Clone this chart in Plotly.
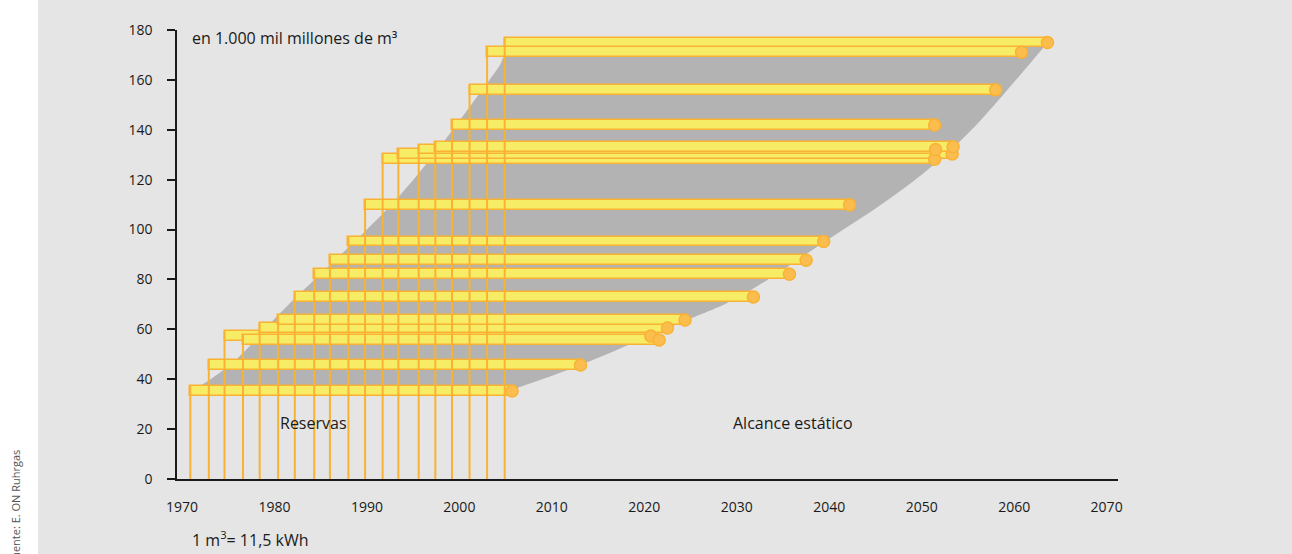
import plotly.graph_objects as go

# ---- data ----
years = [1970.9, 1972.9, 1974.6, 1976.6, 1978.4, 1980.4, 1982.2, 1984.3, 1986.0, 1988.0,
         1989.8, 1991.7, 1993.4, 1995.6, 1997.4, 1999.2, 2001.1, 2003.0, 2004.9]
reserves = [35.3, 45.7, 57.3, 55.7, 60.5, 63.7, 73.0, 82.1, 87.7, 95.2,
            109.9, 128.2, 130.3, 132.1, 133.2, 141.9, 156.0, 171.1, 175.0]
static_range = [34.8, 40.2, 46.1, 45.0, 44.1, 44.0, 49.6, 51.4, 51.5, 51.4,
                52.4, 59.7, 59.9, 55.9, 56.0, 52.2, 56.9, 57.8, 58.7]

# grey envelope (left = reserves edge bottom->top, right = range edge top->bottom)
env_left_year = [1971.5, 1975.9, 1981.3, 1993.6, 2003.0, 2004.7, 2004.9]
env_left_value = [36.0, 48.0, 69.1, 113.9, 158.7, 168.7, 173.5]
env_right_year = [2063.3, 2056.4, 2051.5, 2045.9, 2039.8, 2033.3, 2028.95,
                  2024.6, 2013.1, 2006.2, 2005.8]
env_right_value = [173.5, 143.9, 126.6, 110.7, 95.8, 79.8, 70.6,
                   63.75, 45.7, 36.4, 35.3]

x_ticks = list(range(1970, 2071, 10))
y_ticks = list(range(0, 181, 20))

BAR_W = 3.9
YELLOW = "#F7EC66"
ORANGE = "#F9B233"
DOT = "#FCBD4F"
BG = "#E5E5E5"
GREY = "#B3B3B3"
FONT = "Open Sans"

fig = go.Figure()

# horizontal bars (reserves year -> year + static range)
fig.add_trace(go.Bar(
    orientation="h",
    y=reserves,
    x=static_range,
    base=years,
    width=BAR_W,
    marker=dict(color=YELLOW, line=dict(color=ORANGE, width=1.5)),
    hoverinfo="skip",
    showlegend=False,
))

# vertical lines from 0 up to the top of each bar
vx, vy = [], []
for yr, r in zip(years, reserves):
    vx += [yr, yr, None]
    vy += [0, r + BAR_W / 2, None]
fig.add_trace(go.Scatter(x=vx, y=vy, mode="lines",
                         line=dict(color=ORANGE, width=2),
                         hoverinfo="skip", showlegend=False))

# end dots
ends = [yr + s for yr, s in zip(years, static_range)]
fig.add_trace(go.Scatter(x=ends, y=reserves, mode="markers",
                         marker=dict(size=12, color=DOT, line=dict(color=ORANGE, width=1.5)),
                         hoverinfo="skip", showlegend=False))


def smooth_segments(pts):
    """Catmull-Rom -> cubic bezier commands through pts (excluding initial move)."""
    cmds = []
    n = len(pts)
    for i in range(n - 1):
        p0 = pts[i - 1] if i > 0 else pts[i]
        p1 = pts[i]
        p2 = pts[i + 1]
        p3 = pts[i + 2] if i + 2 < n else pts[i + 1]
        c1 = (p1[0] + (p2[0] - p0[0]) / 6, p1[1] + (p2[1] - p0[1]) / 6)
        c2 = (p2[0] - (p3[0] - p1[0]) / 6, p2[1] - (p3[1] - p1[1]) / 6)
        cmds.append(f"C {c1[0]:.3f},{c1[1]:.3f} {c2[0]:.3f},{c2[1]:.3f} {p2[0]:.3f},{p2[1]:.3f}")
    return cmds


left_pts = list(zip(env_left_year, env_left_value))
right_pts = list(zip(env_right_year, env_right_value))
path = (f"M {left_pts[0][0]},{left_pts[0][1]} " + " ".join(smooth_segments(left_pts))
        + f" L {right_pts[0][0]},{right_pts[0][1]} " + " ".join(smooth_segments(right_pts)) + " Z")
shapes = [dict(type="path", xref="x", yref="y", path=path,
               fillcolor=GREY, line=dict(width=0), layer="below")]

L, R, T, B = 177, 174, 30, 75
W, H = 1292, 554
PW, PH = W - L - R, H - T - B


def px_x(px):
    return (px - L) / PW


def px_y(py):
    return (H - B - py) / PH


# white strip on the left
shapes.append(dict(type="rect", xref="paper", yref="paper",
                   x0=px_x(-5), x1=px_x(38), y0=px_y(560), y1=px_y(-5),
                   fillcolor="white", line=dict(width=0), layer="above"))

txt = dict(family=FONT, size=16, color="#1a1a1a")
annotations = [
    dict(text="en 1.000 mil millones de m³", x=px_x(190), y=px_y(38), xref="paper", yref="paper",
         xanchor="left", yanchor="middle", showarrow=False, font=txt),
    dict(text="Reservas", x=px_x(278), y=px_y(423), xref="paper", yref="paper",
         xanchor="left", yanchor="middle", showarrow=False, font=txt),
    dict(text="Alcance estático", x=px_x(731), y=px_y(423), xref="paper", yref="paper",
         xanchor="left", yanchor="middle", showarrow=False, font=txt),
    dict(text="1 m<sup>3</sup>= 11,5 kWh", x=px_x(190), y=px_y(539), xref="paper", yref="paper",
         xanchor="left", yanchor="middle", showarrow=False, font=txt),
    dict(text="Fuente: E. ON Ruhrgas", x=px_x(15), y=px_y(448), xref="paper", yref="paper",
         xanchor="center", yanchor="top", textangle=-90, showarrow=False,
         font=dict(family=FONT, size=11, color="#555555")),
]

fig.update_layout(
    width=W, height=H,
    margin=dict(l=L, r=R, t=T, b=B, pad=0),
    paper_bgcolor=BG, plot_bgcolor=BG,
    shapes=shapes, annotations=annotations,
    bargap=0,
    font=dict(family=FONT, size=14, color="#1a1a1a"),
    xaxis=dict(range=[1969.46, 2071.23], tickvals=x_ticks, ticks="", showgrid=False,
               zeroline=False, showline=True, linecolor="#1a1a1a", linewidth=1.5,
               ticklabelstandoff=14, tickfont=dict(family=FONT, size=14, color="#1a1a1a")),
    yaxis=dict(range=[0, 180], tickvals=y_ticks, ticks="outside", ticklen=8, tickwidth=1.5,
               tickcolor="#1a1a1a", showgrid=False, zeroline=False, showline=True,
               linecolor="#1a1a1a", linewidth=1.5, ticklabelstandoff=12,
               tickfont=dict(family=FONT, size=14, color="#1a1a1a")),
)

fig.write_html("out.html", config={"displayModeBar": False},
               post_script="document.body.style.margin='0';document.body.style.overflow='hidden';")
